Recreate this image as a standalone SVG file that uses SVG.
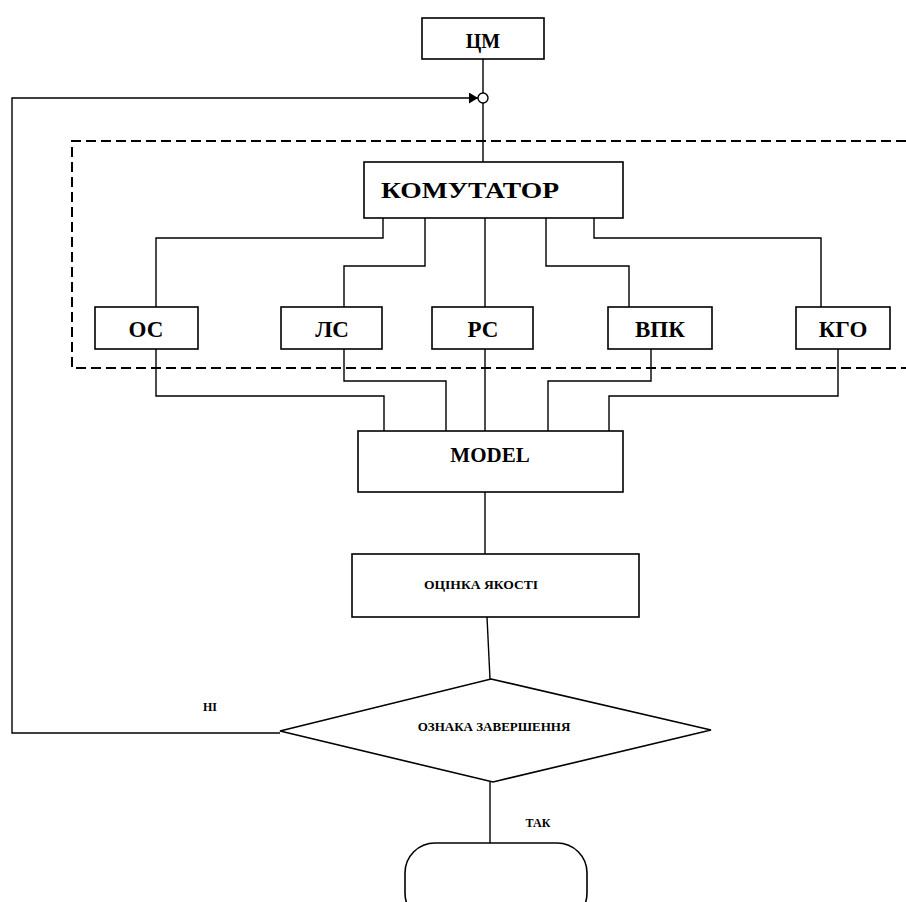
<svg xmlns="http://www.w3.org/2000/svg" width="906" height="902" viewBox="0 0 906 902">
<defs>
<style>
.box{fill:#fff;stroke:#000;stroke-width:1.6}
.ln{fill:none;stroke:#000;stroke-width:1.4}
.dash{fill:none;stroke:#000;stroke-width:2;stroke-dasharray:10 5}
.t{font-family:"Liberation Serif","Times New Roman",serif;font-weight:bold;fill:#000;text-anchor:middle}
</style>
<marker id="arr" markerWidth="9" markerHeight="11" refX="9" refY="5.5" orient="auto" markerUnits="userSpaceOnUse">
<path d="M0,0 L9,5.5 L0,11 Z" fill="#000"/>
</marker>
</defs>
<rect width="906" height="902" fill="#fff"/>
<g id="connectors">
<line class="ln" x1="483" y1="59" x2="483" y2="93"/>
<line class="ln" x1="483" y1="103" x2="483" y2="162"/>
<path class="ln" d="M280,733 H12 V98 H478" marker-end="url(#arr)"/>
<path class="ln" d="M383,218 V238 H156 V307"/>
<path class="ln" d="M425,218 V266 H344 V307"/>
<path class="ln" d="M485,218 V307"/>
<path class="ln" d="M546,218 V266 H629 V307"/>
<path class="ln" d="M594,218 V238 H821 V307"/>
<path class="ln" d="M156,349 V396 H384 V431"/>
<path class="ln" d="M344,349 V381 H446 V431"/>
<path class="ln" d="M485,349 V431"/>
<path class="ln" d="M651,349 V381 H548 V431"/>
<path class="ln" d="M838,349 V396 H609 V431"/>
<line class="ln" x1="485" y1="492" x2="485" y2="554"/>
<line class="ln" x1="487" y1="617" x2="490" y2="679"/>
<line class="ln" x1="490" y1="782" x2="490" y2="843"/>
<text class="t" x="210" y="711" font-size="12">НІ</text>
<text class="t" x="538" y="827" font-size="12">ТАК</text>
</g>
<path class="dash" d="M906,141 H72 V368 H906"/>
<g id="cm"><rect class="box" x="422" y="18" width="122" height="41"/><text class="t" x="483" y="48" font-size="20">ЦМ</text></g>
<g id="junction"><circle cx="483" cy="98" r="5" fill="#fff" stroke="#000" stroke-width="1.4"/></g>
<g id="komutator"><rect class="box" x="364" y="162" width="259" height="56"/><text class="t" x="470" y="198" font-size="24" textLength="178" lengthAdjust="spacingAndGlyphs">КОМУТАТОР</text></g>
<g id="os"><rect class="box" x="95" y="307" width="103" height="42"/><text class="t" x="146" y="337" font-size="23">ОС</text></g>
<g id="ls"><rect class="box" x="281" y="307" width="101" height="42"/><text class="t" x="332" y="337" font-size="23">ЛС</text></g>
<g id="rs"><rect class="box" x="432" y="307" width="101" height="42"/><text class="t" x="483" y="337" font-size="23">РС</text></g>
<g id="vpk"><rect class="box" x="608" y="307" width="104" height="42"/><text class="t" x="660" y="337" font-size="23">ВПК</text></g>
<g id="kgo"><rect class="box" x="796" y="307" width="94" height="42"/><text class="t" x="843" y="337" font-size="23">КГО</text></g>
<g id="model"><rect class="box" x="358" y="431" width="265" height="61"/><text class="t" x="490" y="462" font-size="21">MODEL</text></g>
<g id="quality"><rect class="box" x="352" y="554" width="287" height="63"/><text class="t" x="481" y="589" font-size="12" textLength="114" lengthAdjust="spacingAndGlyphs">ОЦІНКА ЯКОСТІ</text></g>
<g id="decision"><polygon class="box" points="491,679 711,730 493,782 280,731"/><text class="t" x="494" y="731" font-size="13">ОЗНАКА ЗАВЕРШЕННЯ</text></g>
<g id="terminator"><rect class="box" x="405" y="843" width="182" height="80" rx="30" ry="30"/></g>
</svg>
